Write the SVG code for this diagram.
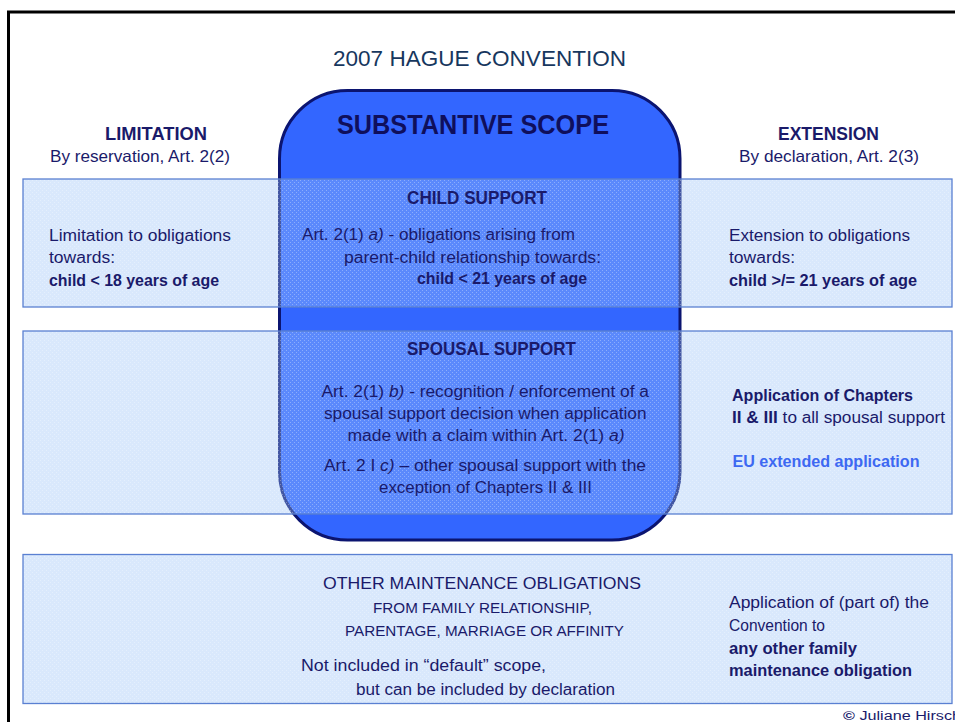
<svg xmlns="http://www.w3.org/2000/svg" width="955" height="722" viewBox="0 0 955 722">
<defs>
<pattern id="dots" width="4" height="4" patternUnits="userSpaceOnUse">
<rect width="4" height="4" fill="#9CC2F7" fill-opacity="0.38"/>
<rect x="0" y="0" width="1" height="1" fill="#FFFFFF" fill-opacity="0.3"/>
<rect x="2" y="2" width="1" height="1" fill="#FFFFFF" fill-opacity="0.3"/>
</pattern>
<style>
text{font-family:"Liberation Sans",Arial,sans-serif;fill:#1A1A6A;}
.b{font-weight:bold;}
.i{font-style:italic;}
.body{font-size:16px;}
.head{font-size:18px;font-weight:bold;}
.band{fill:url(#dots);stroke:#5A80D2;stroke-width:1.3;}
</style>
</defs>
<rect width="955" height="722" fill="#FFFFFF"/>
<path d="M8.5,722 V12 H955" fill="none" stroke="#000000" stroke-width="3"/>
<g id="title">
<text x="333" y="66" font-size="22.5" textLength="293" lengthAdjust="spacingAndGlyphs" style="fill:#17375E">2007 HAGUE CONVENTION</text>
</g>
<g id="scope">
<rect x="279.5" y="90.5" width="400.5" height="449.5" rx="68" ry="68" fill="#3366FF" stroke="#0B1470" stroke-width="3"/>
<text x="337" y="134" font-size="27" class="b" textLength="272" lengthAdjust="spacingAndGlyphs" style="fill:#0F0F5C">SUBSTANTIVE SCOPE</text>
</g>
<g id="limitation">
<text x="105" y="140" class="head" textLength="102" lengthAdjust="spacingAndGlyphs">LIMITATION</text>
<text x="50" y="162" font-size="16.5" textLength="180" lengthAdjust="spacingAndGlyphs">By reservation, Art. 2(2)</text>
</g>
<g id="extension">
<text x="778" y="140" class="head" textLength="101" lengthAdjust="spacingAndGlyphs">EXTENSION</text>
<text x="739" y="162" font-size="16.5" textLength="180" lengthAdjust="spacingAndGlyphs">By declaration, Art. 2(3)</text>
</g>
<g id="child-support">
<rect class="band" x="23" y="179" width="929" height="128"/>
<text x="407" y="204" class="head" textLength="140" lengthAdjust="spacingAndGlyphs">CHILD SUPPORT</text>
<text x="302" y="240" class="body" textLength="273" lengthAdjust="spacingAndGlyphs">Art. 2(1) <tspan class="i">a)</tspan> - obligations arising from</text>
<text x="344" y="262.5" class="body" textLength="257" lengthAdjust="spacingAndGlyphs">parent-child relationship towards:</text>
<text x="417" y="284" class="body b" textLength="170" lengthAdjust="spacingAndGlyphs">child &lt; 21 years of age</text>
<text x="49" y="241" class="body" textLength="182" lengthAdjust="spacingAndGlyphs">Limitation to obligations</text>
<text x="49" y="263" class="body" textLength="66" lengthAdjust="spacingAndGlyphs">towards:</text>
<text x="49" y="285.5" class="body b" textLength="170" lengthAdjust="spacingAndGlyphs">child &lt; 18 years of age</text>
<text x="729" y="241" class="body" textLength="181" lengthAdjust="spacingAndGlyphs">Extension to obligations</text>
<text x="729" y="263" class="body" textLength="66" lengthAdjust="spacingAndGlyphs">towards:</text>
<text x="729" y="285.5" class="body b" textLength="188" lengthAdjust="spacingAndGlyphs">child &gt;/= 21 years of age</text>
</g>
<g id="spousal-support">
<rect class="band" x="23" y="331" width="929" height="183"/>
<text x="407" y="355" class="head" textLength="169" lengthAdjust="spacingAndGlyphs">SPOUSAL SUPPORT</text>
<text x="321.5" y="396.5" class="body" textLength="327.5" lengthAdjust="spacingAndGlyphs">Art. 2(1) <tspan class="i">b)</tspan> - recognition / enforcement of a</text>
<text x="324" y="418.5" class="body" textLength="322.5" lengthAdjust="spacingAndGlyphs">spousal support decision when application</text>
<text x="347.5" y="441" class="body" textLength="277" lengthAdjust="spacingAndGlyphs">made with a claim within Art. 2(1) <tspan class="i">a)</tspan></text>
<text x="324" y="470.5" class="body" textLength="322" lengthAdjust="spacingAndGlyphs">Art. 2 I <tspan class="i">c)</tspan> – other spousal support with the</text>
<text x="379" y="492.5" class="body" textLength="213" lengthAdjust="spacingAndGlyphs">exception of Chapters II &amp; III</text>
<text x="732" y="400.5" class="body b" textLength="181" lengthAdjust="spacingAndGlyphs">Application of Chapters</text>
<text x="732" y="422.5" class="body" textLength="213" lengthAdjust="spacingAndGlyphs"><tspan class="b">II &amp; III</tspan> to all spousal support</text>
<text x="732.5" y="467" class="body b" textLength="187" lengthAdjust="spacingAndGlyphs" style="fill:#3D68F2">EU extended application</text>
</g>
<g id="other-maintenance">
<rect class="band" x="23" y="554.5" width="929" height="149"/>
<text x="323" y="589" font-size="17" textLength="318" lengthAdjust="spacingAndGlyphs">OTHER MAINTENANCE OBLIGATIONS</text>
<text x="373" y="613" font-size="15" textLength="219" lengthAdjust="spacingAndGlyphs">FROM FAMILY RELATIONSHIP,</text>
<text x="345" y="636" font-size="15" textLength="279" lengthAdjust="spacingAndGlyphs">PARENTAGE, MARRIAGE OR AFFINITY</text>
<text x="301" y="671" class="body" textLength="245" lengthAdjust="spacingAndGlyphs">Not included in “default” scope,</text>
<text x="356" y="695" class="body" textLength="259" lengthAdjust="spacingAndGlyphs">but can be included by declaration</text>
<text x="729" y="608" class="body" textLength="200" lengthAdjust="spacingAndGlyphs">Application of (part of) the</text>
<text x="729" y="631" class="body" textLength="96" lengthAdjust="spacingAndGlyphs">Convention to</text>
<text x="729" y="654" class="body b" textLength="128" lengthAdjust="spacingAndGlyphs">any other family</text>
<text x="729" y="676" class="body b" textLength="183" lengthAdjust="spacingAndGlyphs">maintenance obligation</text>
</g>
<g id="credit">
<text x="843" y="720" font-size="12" textLength="118" lengthAdjust="spacingAndGlyphs"><tspan class="b">©</tspan> Juliane Hirsch</text>
</g>
<g id="connectors"/>
</svg>
